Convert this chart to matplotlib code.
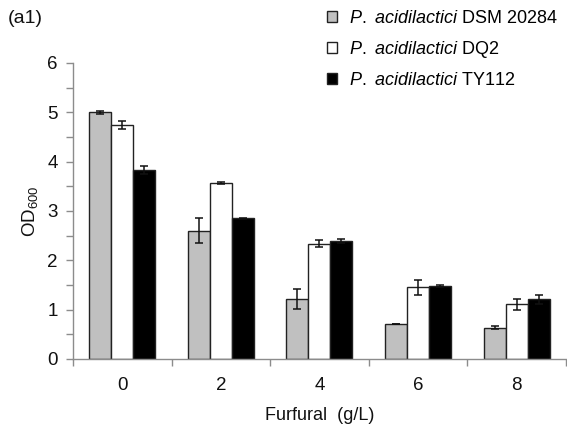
import matplotlib
matplotlib.use("Agg")
import matplotlib.pyplot as plt
from matplotlib.patches import Patch
import numpy as np

plt.rcParams['font.family'] = ['Liberation Sans', 'DejaVu Sans']
plt.rcParams['mathtext.fontset'] = 'custom'
plt.rcParams['mathtext.rm'] = 'Liberation Sans'
plt.rcParams['mathtext.it'] = 'Liberation Sans:italic'

# Furfural concentrations (g/L)
categories = ['0', '2', '4', '6', '8']

# OD600 means and standard deviations per strain
dsm_mean = [5.00, 2.60, 1.21, 0.70, 0.63]
dsm_err = [0.03, 0.25, 0.20, 0.00, 0.03]
dq2_mean = [4.74, 3.56, 2.34, 1.45, 1.11]
dq2_err = [0.08, 0.02, 0.07, 0.15, 0.11]
ty_mean = [3.83, 2.85, 2.39, 1.47, 1.21]
ty_err = [0.09, 0.01, 0.04, 0.02, 0.09]

series_names = [r'$\it{P.}$ $\it{acidilactici}$ DSM 20284',
                r'$\it{P.}$ $\it{acidilactici}$ DQ2',
                r'$\it{P.}$ $\it{acidilactici}$ TY112']
colors = ['#c0c0c0', '#ffffff', '#000000']

fig = plt.figure(figsize=(5.67, 4.25), dpi=100)
ax = fig.add_axes([0.1287, 0.1553, 0.8695, 0.6965])

x = np.arange(len(categories))
w = 0.223
axis_gray = '#8c8c8c'
for i, (m, e) in enumerate([(dsm_mean, dsm_err), (dq2_mean, dq2_err), (ty_mean, ty_err)]):
    pos = x + (i - 1) * w
    ax.bar(pos, m, width=w, color=colors[i], edgecolor='#222222', linewidth=1.0, zorder=2)
    ax.errorbar(pos, m, yerr=e, fmt='none', ecolor='#111111', elinewidth=1.1,
                capsize=2.6, capthick=1.1, zorder=3)

ax.set_xlim(-0.5, len(categories) - 0.5)
ax.set_ylim(0, 6)
ax.set_xticks(x)
ax.set_xticklabels(categories)
ax.set_xticks(np.arange(-0.5, len(categories), 1.0), minor=True)
ax.tick_params(axis='x', which='major', length=0, pad=13, labelsize=13.5, labelcolor='#111111')
ax.tick_params(axis='x', which='minor', length=5, width=1, color=axis_gray, direction='out')
ax.set_yticks(np.arange(0, 6.01, 1))
ax.set_yticks(np.arange(0, 6.01, 0.5), minor=True)
ax.tick_params(axis='y', which='both', length=5, width=1, color=axis_gray, direction='out',
               labelsize=13.5, labelcolor='#111111', pad=6)

for s in ['top', 'right']:
    ax.spines[s].set_visible(False)
for s in ['left', 'bottom']:
    ax.spines[s].set_color(axis_gray)
    ax.spines[s].set_linewidth(1.0)

ax.set_ylabel(r'OD$_{600}$', fontsize=13.5, color='#111111', labelpad=5)
ax.set_xlabel('Furfural  (g/L)', fontsize=13, color='#111111', labelpad=9)

fig.text(0.014, 0.957, '(a1)', fontsize=14, color='#111111', va='center', ha='left')

handles = [Patch(facecolor=c, edgecolor='#222222', linewidth=1.0) for c in colors]
fig.legend(handles, series_names, loc='upper left', bbox_to_anchor=(0.566, 0.99),
           frameon=False, fontsize=13, handlelength=0.55, handleheight=0.55,
           handletextpad=0.7, labelspacing=0.66, borderaxespad=0, borderpad=0.32)

fig.savefig('out.png', dpi=100)
